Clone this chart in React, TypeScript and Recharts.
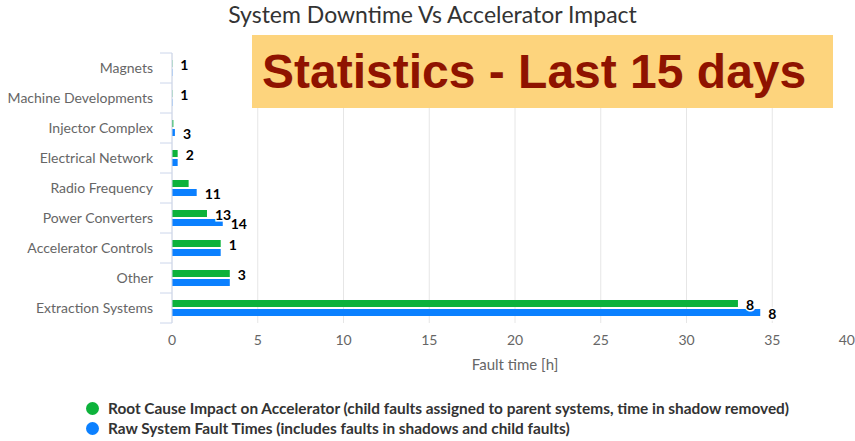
import React from 'react';
import { BarChart, Bar, XAxis, YAxis, CartesianGrid, Legend, LabelList, Label } from 'recharts';

const systems = [
  'Magnets',
  'Machine Developments',
  'Injector Complex',
  'Electrical Network',
  'Radio Frequency',
  'Power Converters',
  'Accelerator Controls',
  'Other',
  'Extraction Systems',
];
const rootCauseHours = [0.02, 0.02, 0.08, 0.33, 0.97, 2.04, 2.84, 3.37, 33.0];
const rawHours = [0.02, 0.02, 0.17, 0.33, 1.44, 2.96, 2.84, 3.37, 34.3];
const rootCauseCounts = [1, 1, null, 2, null, 13, 1, 3, 8];
const rawCounts = [null, null, 3, null, 11, 14, null, null, 8];
const hourTicks = [0, 5, 10, 15, 20, 25, 30, 35, 40];

const GREEN = '#0db23b';
const BLUE = '#0b80ff';
const FONT = 'Lato, "Open Sans", sans-serif';
const AXIS_X = 172;

const data = systems.map((name, i) => ({
  name,
  root: rootCauseHours[i],
  raw: rawHours[i],
  rootCount: rootCauseCounts[i],
  rawCount: rawCounts[i],
}));

function CountLabel(props: any) {
  const { x, y, width, height, value } = props;
  if (value == null) return null;
  return (
    <text
      x={Number(x) + Number(width) + 8}
      y={Number(y) + Number(height) / 2 + 1}
      dominantBaseline="central"
      fontFamily={FONT}
      fontWeight="bold"
      fontSize={14}
      fill="#000"
      stroke="#fff"
      strokeWidth={3}
      paintOrder="stroke"
    >
      {value}
    </text>
  );
}

function SystemTick({ x, y, payload, index }: any) {
  return (
    <g>
      <line x1={AXIS_X - 12} x2={AXIS_X} y1={y + 15} y2={y + 15} stroke="#ccd6eb" />
      {index === 0 && <line x1={AXIS_X - 12} x2={AXIS_X} y1={y - 15} y2={y - 15} stroke="#ccd6eb" />}
      <text x={x} y={y - 1} textAnchor="end" dominantBaseline="central" fontFamily={FONT} fontSize={14} fill="#666">
        {payload.value}
      </text>
    </g>
  );
}

function HourTick({ x, y, payload }: any) {
  // keep the last label inside the picture
  const clamp = x > 845;
  return (
    <text
      x={clamp ? 855 : x}
      y={y}
      dy="0.71em"
      textAnchor={clamp ? 'end' : 'middle'}
      fontFamily={FONT}
      fontSize={14}
      fill="#666"
    >
      {payload.value}
    </text>
  );
}

const legendItems = [
  { color: GREEN, text: 'Root Cause Impact on Accelerator (child faults assigned to parent systems, time in shadow removed)' },
  { color: BLUE, text: 'Raw System Fault Times (includes faults in shadows and child faults)' },
];

function FaultLegend() {
  return (
    <div style={{ fontFamily: FONT, fontWeight: 'bold', fontSize: 15.4, color: '#333', whiteSpace: 'nowrap' }}>
      {legendItems.map((item) => (
        <div key={item.text} style={{ display: 'flex', alignItems: 'center', height: 20 }}>
          <span
            style={{
              display: 'inline-block',
              width: 13,
              height: 13,
              borderRadius: 7,
              background: item.color,
              marginRight: 9,
            }}
          />
          {item.text}
        </div>
      ))}
    </div>
  );
}

export default function App() {
  return (
    <div style={{ position: 'absolute', left: 0, top: 0, width: 855, height: 441, overflow: 'hidden', background: '#fff' }}>
      <BarChart
        width={860}
        height={441}
        data={data}
        layout="vertical"
        margin={{ top: 53, right: 2, bottom: 68, left: 0 }}
        barSize={7}
        barGap={2}
      >
        <CartesianGrid horizontal={false} stroke="#e6e6e6" />
        <XAxis
          type="number"
          domain={[0, 40]}
          ticks={hourTicks}
          axisLine={false}
          tickLine={false}
          tickSize={0}
          tickMargin={12}
          height={50}
          tick={<HourTick />}
        >
          <Label
            value="Fault time [h]"
            position="insideBottom"
            offset={3}
            style={{ fontFamily: FONT, fontSize: 15, fill: '#666' }}
          />
        </XAxis>
        <YAxis
          type="category"
          dataKey="name"
          width={AXIS_X}
          axisLine={{ stroke: '#ccd6eb' }}
          tickLine={false}
          tickSize={0}
          tickMargin={19}
          interval={0}
          tick={<SystemTick />}
        />
        <Legend
          layout="vertical"
          align="center"
          verticalAlign="middle"
          wrapperStyle={{ left: 86, top: 398, width: 770 }}
          content={() => <FaultLegend />}
        />
        <Bar dataKey="root" name="Root Cause Impact on Accelerator" fill={GREEN} isAnimationActive={false}>
          <LabelList dataKey="rootCount" content={<CountLabel />} />
        </Bar>
        <Bar dataKey="raw" name="Raw System Fault Times" fill={BLUE} isAnimationActive={false}>
          <LabelList dataKey="rawCount" content={<CountLabel />} />
        </Bar>
      </BarChart>
      <div
        style={{
          position: 'absolute',
          left: 5,
          top: 0,
          width: 855,
          textAlign: 'center',
          fontFamily: FONT,
          fontSize: 23,
          color: '#333',
        }}
      >
        System Downtime Vs Accelerator Impact
      </div>
      <div
        style={{
          position: 'absolute',
          left: 252,
          top: 35,
          width: 581,
          height: 73,
          background: '#fdd47d',
          boxSizing: 'border-box',
          paddingLeft: 10,
          lineHeight: '73px',
          fontFamily: '"Liberation Sans", Arial, sans-serif',
          fontWeight: 'bold',
          fontSize: 48,
          color: '#8f1300',
          whiteSpace: 'nowrap',
        }}
      >
        Statistics - Last 15 days
      </div>
    </div>
  );
}
